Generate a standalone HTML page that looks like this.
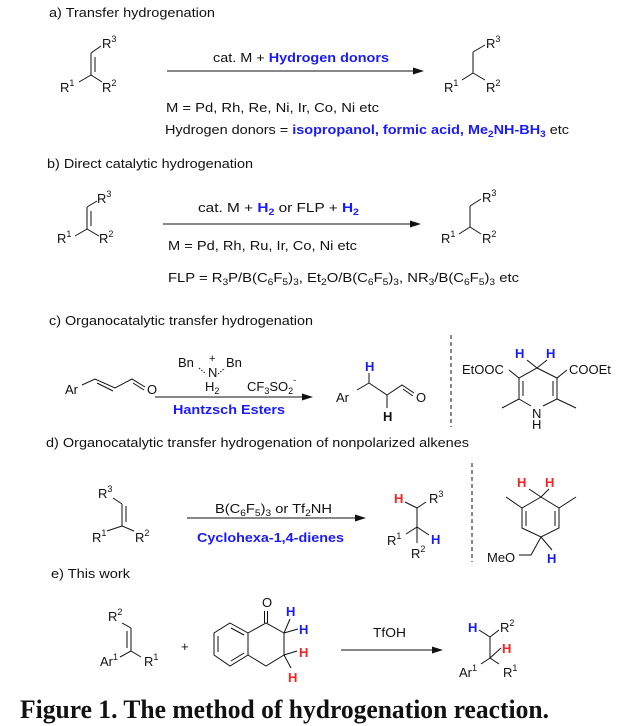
<!DOCTYPE html>
<html><head><meta charset="utf-8"><style>
body{margin:0;background:#fff;width:639px;height:726px;overflow:hidden}
svg{display:block}
text{font-family:"Liberation Sans",sans-serif;font-size:13px;fill:#111}
.b{fill:#1a1aff;font-weight:bold}
.r{fill:#ff2020;font-weight:bold}
.s{font-size:9px}
line,path,polyline,polygon{stroke:#111;stroke-width:1;fill:none}
.ah{fill:#111;stroke:none}
</style></head><body>
<svg width="639" height="726" viewBox="0 0 639 726">
<!-- a -->
<text x="49" y="17" textLength="166" lengthAdjust="spacingAndGlyphs">a) Transfer hydrogenation</text>
<text x="102" y="48">R<tspan class="s" dy="-6">3</tspan></text>
<line x1="91" y1="53" x2="101" y2="46"/>
<line x1="91" y1="53" x2="91" y2="75"/><line x1="95" y1="57" x2="95" y2="72"/>
<line x1="91" y1="75" x2="79" y2="82"/><line x1="91" y1="75" x2="102" y2="82"/>
<text x="60" y="92">R<tspan class="s" dy="-6">1</tspan></text>
<text x="102" y="92">R<tspan class="s" dy="-6">2</tspan></text>
<line x1="167" y1="71" x2="416" y2="71"/><polygon class="ah" points="424,71 413,67.5 413,74.5"/>
<text x="213" y="62" textLength="176" lengthAdjust="spacingAndGlyphs">cat. M + <tspan class="b">Hydrogen donors</tspan></text>
<text x="486" y="48">R<tspan class="s" dy="-6">3</tspan></text>
<line x1="473" y1="52" x2="485" y2="45"/><line x1="473" y1="52" x2="473" y2="73" stroke-width="2.5"/>
<line x1="473" y1="73" x2="462" y2="80"/><line x1="473" y1="73" x2="485" y2="80"/>
<text x="444" y="92">R<tspan class="s" dy="-6">1</tspan></text>
<text x="486" y="92">R<tspan class="s" dy="-6">2</tspan></text>
<text x="166" y="112" textLength="213" lengthAdjust="spacingAndGlyphs">M = Pd, Rh, Re, Ni,  Ir, Co, Ni etc</text>
<text x="165" y="134" textLength="404" lengthAdjust="spacingAndGlyphs">Hydrogen donors = <tspan class="b">isopropanol, formic acid, Me<tspan class="s" dy="3">2</tspan><tspan dy="-3">NH-BH</tspan><tspan class="s" dy="3">3</tspan></tspan><tspan dy="-3"> etc</tspan></text>
<!-- b -->
<text x="47" y="168" textLength="206" lengthAdjust="spacingAndGlyphs">b) Direct catalytic hydrogenation</text>
<text x="97" y="203">R<tspan class="s" dy="-6">3</tspan></text>
<line x1="87" y1="207" x2="97" y2="201"/>
<line x1="87" y1="207" x2="87" y2="229"/><line x1="91" y1="211" x2="91" y2="226"/>
<line x1="87" y1="229" x2="75" y2="236"/><line x1="87" y1="229" x2="99" y2="236"/>
<text x="57" y="243">R<tspan class="s" dy="-6">1</tspan></text>
<text x="99" y="243">R<tspan class="s" dy="-6">2</tspan></text>
<line x1="163" y1="224" x2="413" y2="224"/><polygon class="ah" points="421,224 410,220.5 410,227.5"/>
<text x="198" y="212" textLength="161" lengthAdjust="spacingAndGlyphs">cat. M + <tspan class="b">H<tspan class="s" dy="3">2</tspan></tspan><tspan dy="-3">   or FLP + </tspan><tspan class="b">H<tspan class="s" dy="3">2</tspan></tspan></text>
<text x="168" y="250" textLength="189" lengthAdjust="spacingAndGlyphs">M = Pd, Rh, Ru, Ir, Co, Ni etc</text>
<text x="168" y="282" textLength="351" lengthAdjust="spacingAndGlyphs">FLP = R<tspan class="s" dy="3">3</tspan><tspan dy="-3">P/B(C</tspan><tspan class="s" dy="3">6</tspan><tspan dy="-3">F</tspan><tspan class="s" dy="3">5</tspan><tspan dy="-3">)</tspan><tspan class="s" dy="3">3</tspan><tspan dy="-3">, Et</tspan><tspan class="s" dy="3">2</tspan><tspan dy="-3">O/B(C</tspan><tspan class="s" dy="3">6</tspan><tspan dy="-3">F</tspan><tspan class="s" dy="3">5</tspan><tspan dy="-3">)</tspan><tspan class="s" dy="3">3</tspan><tspan dy="-3">, NR</tspan><tspan class="s" dy="3">3</tspan><tspan dy="-3">/B(C</tspan><tspan class="s" dy="3">6</tspan><tspan dy="-3">F</tspan><tspan class="s" dy="3">5</tspan><tspan dy="-3">)</tspan><tspan class="s" dy="3">3</tspan><tspan dy="-3">  etc</tspan></text>
<line x1="470" y1="206" x2="481" y2="199"/><line x1="470" y1="206" x2="470" y2="227" stroke-width="2.5"/>
<line x1="470" y1="227" x2="459" y2="234"/><line x1="470" y1="227" x2="481" y2="234"/>
<text x="482" y="202">R<tspan class="s" dy="-6">3</tspan></text>
<text x="441" y="243">R<tspan class="s" dy="-6">1</tspan></text>
<text x="482" y="243">R<tspan class="s" dy="-6">2</tspan></text>
<!-- c -->
<text x="49" y="325" textLength="264" lengthAdjust="spacingAndGlyphs">c) Organocatalytic transfer hydrogenation</text>
<text x="65" y="394">Ar</text>
<polyline points="82,385 95,379 115,388 132,379 145,387"/>
<line x1="97" y1="383" x2="113" y2="391"/>
<line x1="133" y1="383" x2="144" y2="390"/>
<text x="147" y="394">O</text>
<text x="178" y="367">Bn</text><text x="226" y="367">Bn</text>
<text x="209" y="362" style="font-size:11px">+</text>
<text x="208" y="377">N</text>
<text x="205" y="391">H<tspan class="s" dy="3">2</tspan></text>
<line x1="199" y1="368" x2="206" y2="374" stroke-dasharray="1.5,1.5"/><line x1="218" y1="374" x2="225" y2="368" stroke-dasharray="1.5,1.5"/>
<text x="247" y="391">CF<tspan class="s" dy="3">3</tspan><tspan dy="-3">SO</tspan><tspan class="s" dy="3">2</tspan><tspan class="s" dy="-11">-</tspan></text>
<line x1="155" y1="397" x2="305" y2="397"/><polygon class="ah" points="313,397 302,393.5 302,400.5"/>
<text x="173" y="414" class="b" textLength="112" lengthAdjust="spacingAndGlyphs">Hantzsch Esters</text>
<text x="336" y="402">Ar</text>
<text x="365" y="371" class="b">H</text>
<line x1="369" y1="373" x2="369" y2="383" stroke="#1a1aff" stroke-width="2.5"/>
<line x1="357" y1="390" x2="369" y2="383"/>
<line x1="369" y1="383" x2="387" y2="395" stroke-width="3"/>
<line x1="387" y1="395" x2="387" y2="408"/>
<text x="383" y="421" style="font-weight:bold">H</text>
<polyline points="387,395 402,385 414,393"/><line x1="403" y1="389" x2="413" y2="396"/>
<text x="416" y="402">O</text>
<line x1="451" y1="335" x2="451" y2="427" stroke-dasharray="4,3" stroke-width="1"/>
<text x="462" y="374">EtOOC</text><text x="569" y="374">COOEt</text>
<text x="515" y="358" class="b">H</text><text x="546" y="358" class="b">H</text>
<line x1="537" y1="368" x2="527" y2="360" stroke="#1a1aff" stroke-width="3"/>
<line x1="537" y1="368" x2="547" y2="360" stroke="#1a1aff" stroke-width="2"/>
<polyline points="509,370 519,378 537,368 557,378 567,370"/>
<polyline points="531,406 519,399 519,378"/>
<polyline points="543,406 557,399 557,378"/>
<line x1="523" y1="381" x2="523" y2="396"/><line x1="553" y1="381" x2="553" y2="396"/>
<line x1="519" y1="399" x2="502" y2="408"/><line x1="557" y1="399" x2="576" y2="408"/>
<text x="532" y="418">N</text><text x="532" y="429">H</text>
<!-- d -->
<text x="46" y="447" textLength="423" lengthAdjust="spacingAndGlyphs">d) Organocatalytic transfer hydrogenation of nonpolarized alkenes</text>
<text x="98" y="498">R<tspan class="s" dy="-6">3</tspan></text>
<line x1="113" y1="498" x2="122" y2="504"/>
<line x1="122" y1="504" x2="122" y2="526"/><line x1="126" y1="506" x2="126" y2="522"/>
<line x1="122" y1="526" x2="107" y2="531"/><line x1="122" y1="526" x2="134" y2="531"/>
<text x="92" y="542">R<tspan class="s" dy="-6">1</tspan></text>
<text x="135" y="542">R<tspan class="s" dy="-6">2</tspan></text>
<line x1="187" y1="518" x2="358" y2="518"/><polygon class="ah" points="366,518 355,514.5 355,521.5"/>
<text x="215" y="513" textLength="117" lengthAdjust="spacingAndGlyphs">B(C<tspan class="s" dy="3">6</tspan><tspan dy="-3">F</tspan><tspan class="s" dy="3">5</tspan><tspan dy="-3">)</tspan><tspan class="s" dy="3">3</tspan><tspan dy="-3"> or Tf</tspan><tspan class="s" dy="3">2</tspan><tspan dy="-3">NH</tspan></text>
<text x="197" y="542" class="b" textLength="147" lengthAdjust="spacingAndGlyphs">Cyclohexa-1,4-dienes</text>
<text x="394" y="503" class="r">H</text>
<line x1="405" y1="502" x2="417" y2="508" stroke="#ff2020" stroke-width="3"/>
<line x1="417" y1="508" x2="426" y2="502"/>
<text x="429" y="503">R<tspan class="s" dy="-6">3</tspan></text>
<line x1="417" y1="508" x2="417" y2="527" stroke-width="3"/>
<line x1="417" y1="527" x2="406" y2="534"/>
<line x1="417" y1="527" x2="429" y2="535" stroke="#1a1aff" stroke-width="3"/>
<line x1="417" y1="527" x2="417" y2="543"/>
<text x="387" y="545">R<tspan class="s" dy="-6">1</tspan></text>
<text x="431" y="544" class="b">H</text>
<text x="411" y="558">R<tspan class="s" dy="-6">2</tspan></text>
<line x1="472" y1="463" x2="472" y2="562" stroke-dasharray="4,3" stroke-width="1"/>
<text x="517" y="487" class="r">H</text><text x="545" y="487" class="r">H</text>
<line x1="541" y1="497" x2="529" y2="489" stroke="#ff2020" stroke-width="3"/>
<line x1="541" y1="497" x2="549" y2="489" stroke="#ff2020" stroke-width="2"/>
<polyline points="541,497 559,508 559,528 541,537 522,528 522,508 541,497"/>
<line x1="526" y1="511" x2="526" y2="526"/><line x1="555" y1="511" x2="555" y2="526"/>
<line x1="522" y1="508" x2="506" y2="497"/><line x1="559" y1="508" x2="576" y2="497"/>
<line x1="541" y1="537" x2="552" y2="550" stroke="#1a1aff" stroke-width="3"/>
<polyline points="541,537 531,555 519,555"/>
<text x="487" y="562">MeO</text>
<text x="547" y="563" class="b">H</text>
<!-- e -->
<text x="51" y="578" textLength="79" lengthAdjust="spacingAndGlyphs">e) This work</text>
<text x="108" y="621">R<tspan class="s" dy="-6">2</tspan></text>
<line x1="122" y1="623" x2="131" y2="628"/>
<line x1="131" y1="628" x2="131" y2="651"/><line x1="127" y1="631" x2="127" y2="648"/>
<line x1="131" y1="651" x2="120" y2="657"/><line x1="131" y1="651" x2="141" y2="657"/>
<text x="100" y="666">Ar<tspan class="s" dy="-6">1</tspan></text>
<text x="144" y="666">R<tspan class="s" dy="-6">1</tspan></text>
<text x="181" y="651">+</text>
<polygon points="230,623 248,633 248,655 230,666 214,655 214,633"/>
<line x1="218" y1="636" x2="218" y2="652"/><line x1="231" y1="628" x2="244" y2="635"/><line x1="231" y1="661" x2="244" y2="653"/>
<polyline points="248,633 266,623 284,633 284,655 266,666 248,655"/>
<line x1="264.5" y1="623" x2="264.5" y2="611"/><line x1="267.5" y1="623" x2="267.5" y2="611"/>
<text x="262" y="607">O</text>
<line x1="284" y1="633" x2="290" y2="619" stroke="#1a1aff" stroke-width="3"/>
<line x1="284" y1="633" x2="298" y2="629" stroke="#1a1aff" stroke-width="3"/>
<text x="286" y="616" class="b">H</text><text x="299" y="634" class="b">H</text>
<line x1="284" y1="655" x2="297" y2="651" stroke="#ff2020" stroke-width="3"/>
<line x1="284" y1="655" x2="291" y2="668" stroke="#ff2020" stroke-width="3"/>
<text x="299" y="657" class="r">H</text><text x="288" y="682" class="r">H</text>
<line x1="341" y1="650" x2="435" y2="650"/><polygon class="ah" points="443,650 432,646.5 432,653.5"/>
<text x="373" y="637" textLength="33" lengthAdjust="spacingAndGlyphs">TfOH</text>
<text x="468" y="632" class="b">H</text>
<line x1="479" y1="630" x2="490" y2="637" stroke="#1a1aff" stroke-width="3"/>
<line x1="490" y1="637" x2="499" y2="630"/>
<text x="500" y="632">R<tspan class="s" dy="-6">2</tspan></text>
<line x1="490" y1="637" x2="490" y2="658" stroke-width="2.5"/>
<line x1="490" y1="658" x2="501" y2="648" stroke="#ff2020" stroke-width="3"/>
<text x="502" y="653" class="r">H</text>
<line x1="490" y1="658" x2="481" y2="664"/><line x1="490" y1="658" x2="499" y2="664"/>
<text x="459" y="677">Ar<tspan class="s" dy="-6">1</tspan></text>
<text x="503" y="677">R<tspan class="s" dy="-6">1</tspan></text>
<text x="20" y="718" textLength="529" lengthAdjust="spacingAndGlyphs" style="font-family:'Liberation Serif','DejaVu Serif',serif;font-weight:bold;font-size:26px">Figure 1. The method of hydrogenation reaction.</text>
</svg>
</body></html>
